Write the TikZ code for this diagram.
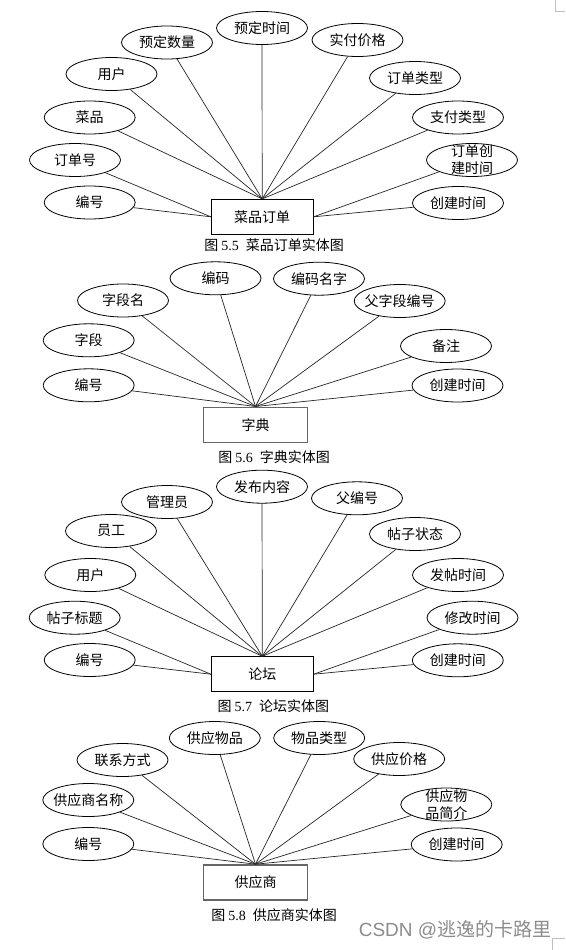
\documentclass[tikz,border=0pt]{standalone}
\usepackage{fontspec}
\setmainfont{Liberation Serif}
\newfontfamily\cjk{Noto Sans CJK SC}
\newfontfamily\wmsans{Liberation Sans}
\usetikzlibrary{shapes.geometric}
\tikzset{
  lbl/.style={font=\cjk\fontsize{14}{17}\selectfont, align=center, inner sep=0pt},
  attr/.style={draw, ellipse, line width=0.8pt, minimum width=91pt, minimum height=33pt,
    inner sep=0pt, label={[lbl]center:#1}},
  ent/.style={draw, rectangle, line width=0.8pt, minimum width=102pt, minimum height=35pt,
    inner sep=0pt, font=\cjk\fontsize{14}{17}\selectfont},
  entg/.style={ent, line width=1.6pt, draw=black!60, minimum width=104pt},
  conn/.style={line width=0.7pt, draw=black!85},
  figcap/.style={font=\cjk\fontsize{14}{17}\selectfont, inner sep=0pt},
  wmark/.style={font=\wmsans\fontsize{19}{19}\selectfont, text=black!45, inner sep=0pt},
  corner/.style={draw=black!25, line width=0.8pt},
}
\begin{document}
\begin{tikzpicture}[x=1pt, y=-1pt]
\useasboundingbox (0,0) rectangle (565,950);
\fill[white] (0,0) rectangle (565,950);
% corner marks
\draw[corner] (555,0) -- (555,11) -- (565,11);
\draw[corner] (565,938.3) -- (552.7,938.3) -- (552.7,950);

% ---------- Diagram 5.5 ----------
\node[ent] (e1) at (262.2,216.8) {菜品订单};
\node[attr=预定时间] (a11) at (262,28) {};
\node[attr=预定数量] (a12) at (167,42.5) {};
\node[attr=实付价格] (a13) at (357.5,40) {};
\node[attr=用户] (a14) at (111.5,74) {};
\node[attr=订单类型] (a15) at (415,78) {};
\node[attr=菜品] (a16) at (89.7,117.5) {};
\node[attr=支付类型] (a17) at (458,117.5) {};
\node[attr=订单号] (a18) at (75,160) {};
\node[attr={订单创\\建时间}] (a19) at (472,160) {};
\node[attr=编号] (a1a) at (89.7,202.5) {};
\node[attr=创建时间] (a1b) at (458,203) {};
\foreach \n in {a11,a12,a13,a14,a15,a16,a17}
  \draw[conn] (e1.north) -- (\n);
\draw[conn] (e1.west) -- (a18);
\draw[conn] (e1.west) -- (a1a);
\draw[conn] (e1.east) -- (a19);
\draw[conn] (e1.east) -- (a1b);
\node[figcap] (c1) at (274,245) {图\hspace{3pt}{\rmfamily 5.5}\hspace{7pt}菜品订单实体图};

% ---------- Diagram 5.6 ----------
\node[entg] (e2) at (255.5,424.8) {字典};
\node[attr=编码] (b1) at (215.5,278.3) {};
\node[attr=编码名字] (b2) at (319,278.7) {};
\node[attr=字段名] (b3) at (123,300.5) {};
\node[attr=父字段编号] (b4) at (399.7,301) {};
\node[attr=字段] (b5) at (88.7,340.3) {};
\node[attr=备注] (b6) at (446,346) {};
\node[attr=编号] (b7) at (88.7,385.3) {};
\node[attr=创建时间] (b8) at (457.5,385.5) {};
\foreach \n in {b1,b2,b3,b4,b5,b6,b7,b8}
  \draw[conn] (e2.north) -- (\n);
\node[figcap] (c2) at (274,456.7) {图\hspace{3pt}{\rmfamily 5.6}\hspace{7pt}字典实体图};

% ---------- Diagram 5.7 ----------
\node[ent] (e3) at (262.3,674.2) {论坛};
\node[attr=发布内容] (d1) at (262,486.7) {};
\node[attr=管理员] (d2) at (167,502) {};
\node[attr=父编号] (d3) at (357,498.3) {};
\node[attr=员工] (d4) at (111,531) {};
\node[attr=帖子状态] (d5) at (415,534) {};
\node[attr=用户] (d6) at (90.3,575) {};
\node[attr=发帖时间] (d7) at (458,575) {};
\node[attr=帖子标题] (d8) at (74.7,617.7) {};
\node[attr=修改时间] (d9) at (472.5,617.7) {};
\node[attr=编号] (da) at (89.7,660) {};
\node[attr=创建时间] (db) at (457.8,660.3) {};
\foreach \n in {d1,d2,d3,d4,d5,d6,d7}
  \draw[conn] (e3.north) -- (\n);
\draw[conn] (e3.west) -- (d8);
\draw[conn] (e3.west) -- (da);
\draw[conn] (e3.east) -- (d9);
\draw[conn] (e3.east) -- (db);
\node[figcap] (c3) at (273.3,705.7) {图\hspace{3pt}{\rmfamily 5.7}\hspace{7pt}论坛实体图};

% ---------- Diagram 5.8 ----------
\node[entg] (e4) at (255.5,882.5) {供应商};
\node[attr=供应物品] (f1) at (214.8,738) {};
\node[attr=物品类型] (f2) at (319.2,738) {};
\node[attr=联系方式] (f3) at (122.5,760) {};
\node[attr=供应价格] (f4) at (399.2,759) {};
\node[attr=供应商名称] (f5) at (88.3,800) {};
\node[attr={供应物\\品简介}] (f6) at (446.3,804.5) {};
\node[attr=编号] (f7) at (88.3,844) {};
\node[attr=创建时间] (f8) at (456.7,844.5) {};
\foreach \n in {f1,f2,f3,f4,f5,f6,f7,f8}
  \draw[conn] (e4.north) -- (\n);
\node[figcap] (c4) at (274.2,915) {图\hspace{3pt}{\rmfamily 5.8}\hspace{7pt}供应商实体图};

% watermark
\node[wmark] (wm) at (455,930) {CSDN @{\cjk 逃逸的卡路里}};
\end{tikzpicture}
\end{document}
